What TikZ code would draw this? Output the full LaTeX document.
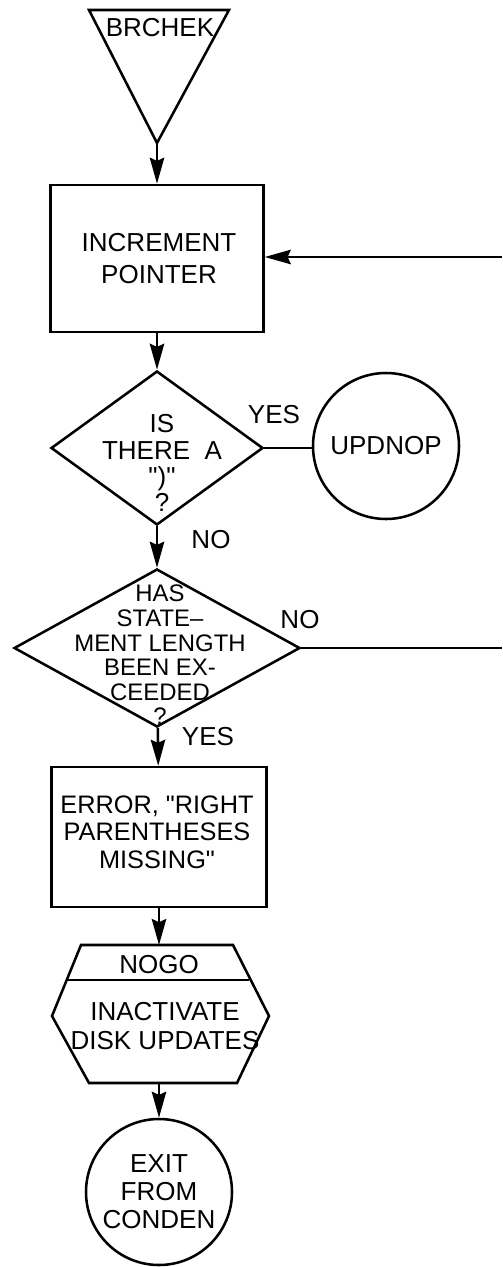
\documentclass[tikz,border=0pt]{standalone}
\usepackage{fontspec}
\setmainfont{Liberation Sans}
\usepackage{tikz}
\usetikzlibrary{arrows.meta, shapes.geometric}

\begin{document}
\begin{tikzpicture}[x=0.25mm, y=-0.25mm, line width=1.8pt,
		every node/.style={font=\fontsize{18.5}{22}\selectfont, align=center},
		procbox/.style={draw, rectangle, inner sep=0pt},
		decision/.style={draw, diamond, inner sep=0pt},
		terminal/.style={draw, circle, inner sep=0pt, minimum size=36.5mm},
		arrowline/.style={-{Stealth[length=6.5mm, width=3.6mm, inset=0.8mm]}}]
			\useasboundingbox (0, 0) rectangle (502, 1267);
			
			% Entry triangle
			\draw (89, 10) -- (229, 10) -- (157, 143) -- cycle;
			\coordinate (brapex) at (157, 143);
			\node (brchek) at (160, 28) {BRCHEK};
			
			% Boxes and decisions
			\node[procbox, minimum width=53.25mm, minimum height=36.75mm] (inc) at (157, 258.5) {};
			\node[font=\fontsize{18.5}{22.7}\selectfont] (inctxt) at (159, 259) {INCREMENT\\POINTER};
			
			\node[decision, minimum width=53mm, minimum height=38.5mm] (q1) at (157, 448) {};
			\node[font=\fontsize{18.5}{18.6}\selectfont] (q1txt) at (162, 463) {IS\\THERE\ \ A\\\textquotedbl)\textquotedbl\\?};
			\node[terminal] (updnop) at (386, 446) {UPDNOP};
			
			\node[decision, minimum width=71.5mm, minimum height=39.5mm] (q2) at (157, 648) {};
			\node[font=\fontsize{17}{17.5}\selectfont] (q2txt) at (160, 655) {HAS\\STATE--\\MENT LENGTH\\BEEN EX-\\CEEDED\\?};
			
			\node[procbox, minimum width=53.75mm, minimum height=35mm] (err) at (159, 837) {};
			\node[font=\fontsize{18}{19.5}\selectfont] (errtxt) at (157, 832) {ERROR, \textquotedbl RIGHT\\PARENTHESES\\MISSING\textquotedbl};
			
			% NOGO hexagon
			\draw (81, 945) -- (233, 945) -- (269, 1016) -- (237, 1083) -- (89, 1083) -- (52, 1016) -- cycle;
			\draw (67, 980) -- (249, 980);
			\coordinate (hextop) at (159, 945);
			\coordinate (hexbot) at (159, 1083);
			\node (nogo) at (159, 965) {NOGO};
			\node[font=\fontsize{18.5}{20}\selectfont] (inact) at (165, 1026) {INACTIVATE\\DISK UPDATES};
			
			\node[terminal, font=\fontsize{18.5}{20}\selectfont] (exit) at (159, 1192) {EXIT\\FROM\\CONDEN};
			
			% Off-page ends
			\coordinate (backin) at (502, 257);
			\coordinate (noout) at (502, 648);
			
			% Connectors
			\draw[arrowline] (brapex) -- (inc);
			\draw[arrowline] (backin) -- (inc.east |- backin);
			\draw[arrowline] (inc) -- (q1);
			\draw (q1.east) -- (updnop.west |- q1.east);
			\draw[arrowline] (q1) -- (q2);
			\draw (q2.east) -- (noout);
			\draw[arrowline] (q2) -- (err);
			\draw[arrowline] (err.south) -- (hextop);
			\draw[arrowline] (hexbot) -- (exit);
			
			% Labels
			\node (yes1) at (274, 415) {YES};
			\node (no1) at (211, 540) {NO};
			\node (no2) at (300, 620) {NO};
			\node (yes2) at (208, 737) {YES};
		\end{tikzpicture}
\end{document}
